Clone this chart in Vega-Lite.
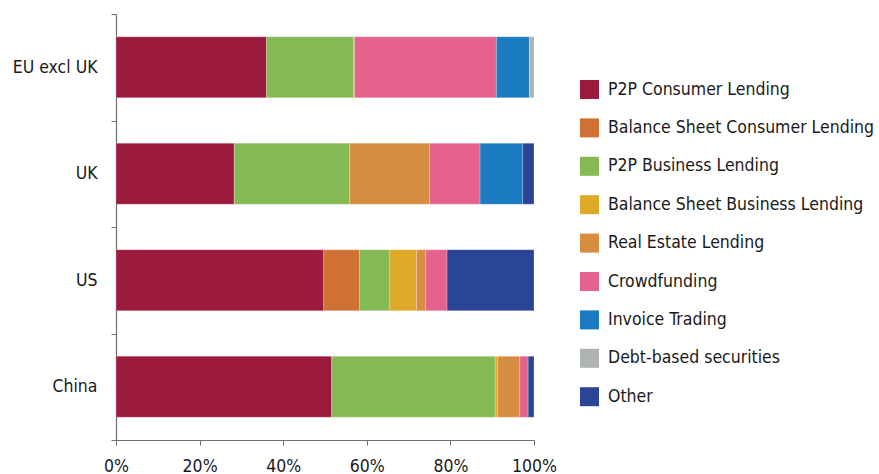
{
  "$schema": "https://vega.github.io/schema/vega-lite/v6.json",
  "width": 418,
  "height": 426,
  "autosize": {"type": "none"},
  "padding": {"left": 116, "top": 14, "right": 345, "bottom": 34},
  "config": {
    "font": "DejaVu Sans Condensed",
    "view": {"stroke": null},
    "axis": {"labelFont": "DejaVu Sans Condensed", "labelFontSize": 17.5, "labelColor": "#1a1a1a", "domainColor": "#6d6d6d", "tickColor": "#6d6d6d", "tickSize": 5, "grid": false, "title": null},
    "legend": {"labelFont": "DejaVu Sans Condensed", "labelFontSize": 17.5, "labelColor": "#1a1a1a", "labelLimit": 0}
  },
  "data": {
    "values": [
      {"country": "EU excl UK", "type": "P2P Consumer Lending", "value": 36.0, "k": 1},
      {"country": "EU excl UK", "type": "P2P Business Lending", "value": 20.8, "k": 3},
      {"country": "EU excl UK", "type": "Real Estate Lending", "value": 0.3, "k": 5},
      {"country": "EU excl UK", "type": "Crowdfunding", "value": 33.9, "k": 6},
      {"country": "EU excl UK", "type": "Invoice Trading", "value": 7.9, "k": 7},
      {"country": "EU excl UK", "type": "Debt-based securities", "value": 1.1, "k": 8},
      {"country": "UK", "type": "P2P Consumer Lending", "value": 28.3, "k": 1},
      {"country": "UK", "type": "P2P Business Lending", "value": 27.6, "k": 3},
      {"country": "UK", "type": "Real Estate Lending", "value": 19.1, "k": 5},
      {"country": "UK", "type": "Crowdfunding", "value": 12.1, "k": 6},
      {"country": "UK", "type": "Invoice Trading", "value": 10.2, "k": 7},
      {"country": "UK", "type": "Other", "value": 2.7, "k": 9},
      {"country": "US", "type": "P2P Consumer Lending", "value": 49.7, "k": 1},
      {"country": "US", "type": "Balance Sheet Consumer Lending", "value": 8.6, "k": 2},
      {"country": "US", "type": "P2P Business Lending", "value": 7.2, "k": 3},
      {"country": "US", "type": "Balance Sheet Business Lending", "value": 6.4, "k": 4},
      {"country": "US", "type": "Real Estate Lending", "value": 2.2, "k": 5},
      {"country": "US", "type": "Crowdfunding", "value": 5.1, "k": 6},
      {"country": "US", "type": "Other", "value": 20.8, "k": 9},
      {"country": "China", "type": "P2P Consumer Lending", "value": 51.6, "k": 1},
      {"country": "China", "type": "P2P Business Lending", "value": 39.1, "k": 3},
      {"country": "China", "type": "Balance Sheet Business Lending", "value": 0.6, "k": 4},
      {"country": "China", "type": "Real Estate Lending", "value": 5.3, "k": 5},
      {"country": "China", "type": "Crowdfunding", "value": 2.0, "k": 6},
      {"country": "China", "type": "Other", "value": 1.4, "k": 9}
    ]
  },
  "mark": {"type": "bar", "height": {"band": 0.573}, "stroke": "#ffffff", "strokeWidth": 0.4, "strokeOpacity": 0.6},
  "encoding": {
    "y": {
      "field": "country", "type": "nominal",
      "sort": ["EU excl UK", "UK", "US", "China"],
      "scale": {"paddingInner": 0, "paddingOuter": 0},
      "axis": {"tickBand": "extent", "labelPadding": 14, "domainWidth": 1.2}
    },
    "x": {
      "field": "value", "type": "quantitative", "stack": "normalize",
      "scale": {"domain": [0, 1], "nice": false},
      "axis": {"format": "%", "values": [0, 0.2, 0.4, 0.6, 0.8, 1], "labelPadding": 12, "labelFlush": false}
    },
    "order": {"field": "k", "type": "quantitative"},
    "color": {
      "field": "type", "type": "nominal",
      "scale": {
        "domain": ["P2P Consumer Lending", "Balance Sheet Consumer Lending", "P2P Business Lending", "Balance Sheet Business Lending", "Real Estate Lending", "Crowdfunding", "Invoice Trading", "Debt-based securities", "Other"],
        "range": ["#9C1A3C", "#CF7134", "#84B953", "#DFA928", "#D68D3F", "#E5628D", "#1A7BC1", "#AFB2B3", "#2A4496"]
      },
      "legend": {"title": null, "orient": "none", "legendX": 464, "legendY": 66, "symbolType": "square", "symbolSize": 361, "symbolStrokeWidth": 0, "rowPadding": 19.4, "labelOffset": 9, "symbolOffset": 0}
    }
  }
}
